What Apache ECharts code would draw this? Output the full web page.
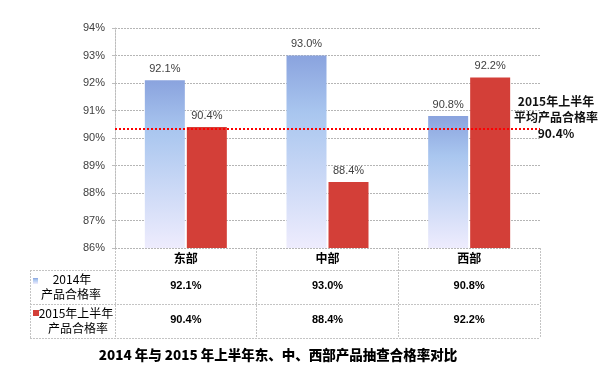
<!DOCTYPE html>
<html><head><meta charset="utf-8">
<script src="https://cdn.jsdelivr.net/npm/echarts@6/dist/echarts.min.js"></script>
<style>html,body{margin:0;padding:0;background:#fff}#c{width:616px;height:386px}</style>
</head><body><div id="c"></div>
<script>
const categories = ['东部', '中部', '西部'];
const rate2014 = [92.1, 93.0, 90.8];
const rate2015H1 = [90.4, 88.4, 92.2];
const avgLineValue = 90.35;
const avgLabel = ['2015年上半年', '平均产品合格率', '90.4%'];
const yMin = 86, yMax = 94, yStep = 1;
const rowNames = [['2014年', '产品合格率'], ['2015年上半年', '产品合格率']];
const titleText = '2014 年与 2015 年上半年东、中、西部产品抽查合格率对比';

const fmt = v => v.toFixed(1) + '%';
const blueGrad = new echarts.graphic.LinearGradient(0, 0, 0, 1, [
  {offset: 0, color: '#8aa3de'}, {offset: 0.3, color: '#a9c6ef'}, {offset: 1, color: '#eeecfd'}
]);
const red = '#d33f38';
const GL = 115, GR = 540, GT = 28, GB = 248;
const lineCol = '#c4c4c4';
const dash = [2, 1];
function hline(y, x1, x2) {
  return {type: 'line', shape: {x1: x1, y1: y + 0.5, x2: x2, y2: y + 0.5}, style: {stroke: lineCol, lineWidth: 1, lineDash: dash}, silent: true};
}
function vline(x, y1, y2) {
  return {type: 'line', shape: {x1: x + 0.5, y1: y1, x2: x + 0.5, y2: y2}, style: {stroke: lineCol, lineWidth: 1, lineDash: dash}, silent: true};
}
const colX = [GL, 256, 398, GR];
const rowY = [GB, 270, 304, 338];
const graphics = [];
graphics.push(hline(rowY[0], GL, GR));
for (let i = 1; i < rowY.length; i++) graphics.push(hline(rowY[i], 30, GR));
colX.forEach(x => graphics.push(vline(x, rowY[0], rowY[3])));
graphics.push(vline(30, rowY[1], rowY[3]));
// legend keys in table
graphics.push({type: 'rect', shape: {x: 33, y: 278, width: 5, height: 6}, style: {fill: blueGrad}});
graphics.push({type: 'rect', shape: {x: 33, y: 310, width: 6, height: 6}, style: {fill: red}});
const rowFont = '12px "Noto Sans CJK SC"';
graphics.push({type: 'text', x: 72, y: 279, style: {text: rowNames[0][0], font: rowFont, fill: '#000', align: 'center', verticalAlign: 'middle'}});
graphics.push({type: 'text', x: 71, y: 294, style: {text: rowNames[0][1], font: rowFont, fill: '#000', align: 'center', verticalAlign: 'middle'}});
graphics.push({type: 'text', x: 76, y: 313, style: {text: rowNames[1][0], font: rowFont, fill: '#000', align: 'center', verticalAlign: 'middle'}});
graphics.push({type: 'text', x: 78, y: 328, style: {text: rowNames[1][1], font: rowFont, fill: '#000', align: 'center', verticalAlign: 'middle'}});
// average annotation
const annFont = 'bold 12px "Noto Sans CJK SC"';
avgLabel.forEach((t, i) => graphics.push({type: 'text', x: 556, y: 101 + i * 16, z: 0, style: {text: t, font: annFont, fill: '#111', align: 'center', verticalAlign: 'middle'}}));
// title
graphics.push({type: 'text', x: 278, y: 355, style: {text: titleText, font: '900 13.5px "Noto Sans CJK SC"', fill: '#000', align: 'center', verticalAlign: 'middle'}});

const chart = echarts.init(document.getElementById('c'));
chart.setOption({
  animation: false,
  backgroundColor: '#fff',
  grid: {left: GL, right: 616 - GR, top: GT, bottom: 386 - GB, containLabel: false},
  xAxis: [
    {type: 'category', data: categories, position: 'bottom', axisLine: {show: false}, axisTick: {show: false},
     axisLabel: {margin: 4, fontSize: 12, fontWeight: 'bold', color: '#000', fontFamily: 'Noto Sans CJK SC'}},
    {type: 'category', data: categories, position: 'bottom', offset: 22, axisLine: {show: false}, axisTick: {show: false},
     axisLabel: {margin: 10, fontSize: 11, fontWeight: 'bold', color: '#000', fontFamily: 'Liberation Sans', formatter: (v, i) => fmt(rate2014[i])}},
    {type: 'category', data: categories, position: 'bottom', offset: 56, axisLine: {show: false}, axisTick: {show: false},
     axisLabel: {margin: 10, fontSize: 11, fontWeight: 'bold', color: '#000', fontFamily: 'Liberation Sans', formatter: (v, i) => fmt(rate2015H1[i])}}
  ],
  yAxis: {
    type: 'value', min: yMin, max: yMax, interval: yStep, startValue: yMin,
    axisLine: {show: true, lineStyle: {color: '#bdbdbd', type: [2, 1]}},
    axisTick: {show: true, length: 3, lineStyle: {color: '#bdbdbd'}},
    axisLabel: {formatter: '{value}%', fontSize: 11, color: '#404040', fontFamily: 'Liberation Sans', margin: 10},
    splitLine: {lineStyle: {color: '#b5b5b5', type: [2, 1]}}
  },
  series: [
    {name: '2014年产品合格率', type: 'bar', data: rate2014, barWidth: 40, barGap: '5%', xAxisIndex: 0,
     itemStyle: {color: blueGrad},
     label: {show: true, position: 'top', distance: 6, formatter: p => fmt(p.value), fontSize: 11, color: '#404040', fontFamily: 'Liberation Sans'}},
    {name: '2015年上半年产品合格率', type: 'bar', data: rate2015H1, barWidth: 40, xAxisIndex: 0,
     itemStyle: {color: red},
     label: {show: true, position: 'top', distance: 6, formatter: p => fmt(p.value), fontSize: 11, color: '#404040', fontFamily: 'Liberation Sans'},
     markLine: {silent: true, symbol: 'none', z: 10, label: {show: false},
       lineStyle: {color: '#ff0000', type: [2, 2], width: 2},
       data: [{yAxis: avgLineValue}]}}
  ],
  graphic: graphics
});
</script></body></html>
